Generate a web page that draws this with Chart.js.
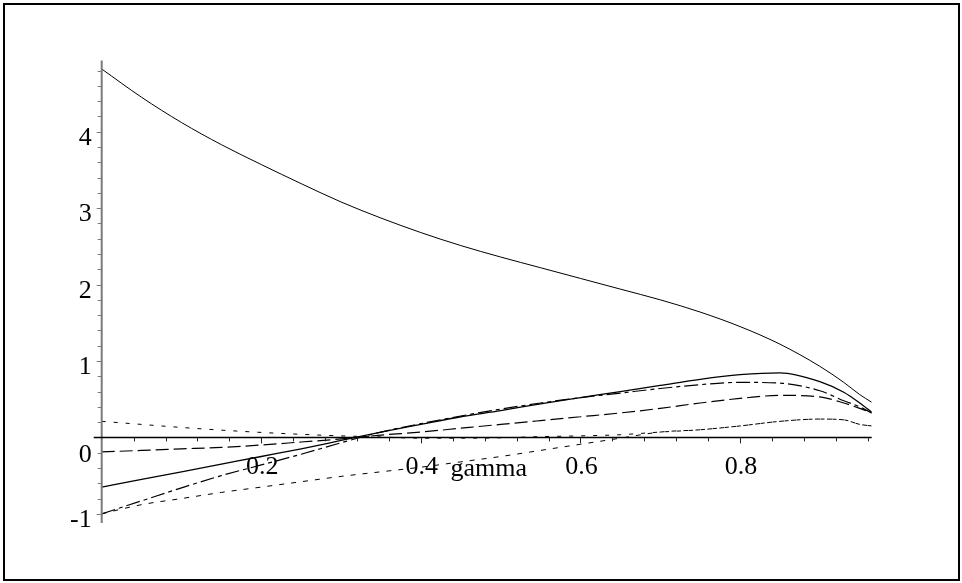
<!DOCTYPE html>
<html>
<head>
<meta charset="utf-8">
<title>gamma plot</title>
<script src="https://cdn.jsdelivr.net/npm/chart.js@4.4.1/dist/chart.umd.min.js"></script>
<style>
  html, body { margin: 0; padding: 0; background: #fff; }
  canvas { display: block; }
</style>
</head>
<body>
<canvas id="plot" width="962" height="583"></canvas>
<script>
// gamma values shared by all curves
const gammaValues = [0, 0.05, 0.1, 0.15, 0.2, 0.25, 0.3, 0.35, 0.4, 0.45, 0.5,
                     0.55, 0.6, 0.65, 0.7, 0.75, 0.8, 0.85, 0.9, 0.93, 0.95, 0.965];

// curves
const topSolid   = [4.82, 4.45, 4.12, 3.83, 3.57, 3.32, 3.08, 2.87, 2.68, 2.51, 2.36,
                    2.22, 2.08, 1.94, 1.80, 1.64, 1.45, 1.22, 0.93, 0.72, 0.56, 0.46];
const lowSolid   = [-0.65, -0.55, -0.45, -0.35, -0.25, -0.15, -0.04, 0.07, 0.17, 0.27, 0.35,
                    0.44, 0.52, 0.60, 0.68, 0.76, 0.82, 0.845, 0.73, 0.59, 0.45, 0.33];
const dashDot    = [-1.0, -0.83, -0.66, -0.50, -0.36, -0.22, -0.07, 0.07, 0.18, 0.28, 0.37,
                    0.45, 0.52, 0.58, 0.64, 0.69, 0.72, 0.71, 0.61, 0.48, 0.40, 0.32];
const longDash   = [-0.19, -0.17, -0.15, -0.13, -0.10, -0.06, -0.02, 0.03, 0.07, 0.12, 0.17,
                    0.22, 0.27, 0.32, 0.38, 0.45, 0.51, 0.55, 0.53, 0.45, 0.38, 0.32];
const dotUpper   = [0.21, 0.17, 0.13, 0.095, 0.065, 0.04, 0.02, 0.005, -0.01, -0.01, -0.005,
                    0.01, 0.02, 0.035, 0.07, 0.10, 0.15, 0.21, 0.24, 0.23, 0.17, 0.15];
const dotLower   = [-1.0, -0.88, -0.80, -0.72, -0.65, -0.58, -0.51, -0.45, -0.39, -0.32, -0.25,
                    -0.17, -0.09, -0.01, 0.07, 0.10, 0.15, 0.21, 0.24, 0.23, 0.17, 0.15];

// axis ticks
const xTickValues = [0.2, 0.4, 0.6, 0.8];
const xTickLabels = ['0.2', '0.4', '0.6', '0.8'];
const yTickValues = [-1, 0, 1, 2, 3, 4];
const yTickLabels = ['-1', '0', '1', '2', '3', '4'];
const xAxisTitle = 'gamma';

function points(values) {
    return gammaValues.map((g, i) => ({ x: g, y: values[i] }));
}

function curve(values, width, dash) {
    return {
        data: points(values),
        borderColor: '#000',
        borderWidth: width,
        borderDash: dash,
        pointRadius: 0,
        fill: false,
        cubicInterpolationMode: 'monotone'
    };
}

// Maple-like axes through the origin, plus the outer frame
const mapleAxes = {
    id: 'mapleAxes',
    afterDatasetsDraw(chart) {
        const ctx = chart.ctx;
        const xs = chart.scales.x;
        const ys = chart.scales.y;
        const area = chart.chartArea;
        const x0 = xs.getPixelForValue(0);
        const y0 = ys.getPixelForValue(0);

        ctx.save();

        // y axis (grey)
        ctx.strokeStyle = '#7a7a7a';
        ctx.lineWidth = 2;
        ctx.beginPath();
        ctx.moveTo(x0, area.top);
        ctx.lineTo(x0, area.bottom);
        ctx.stroke();

        // y ticks every 0.2
        ctx.lineWidth = 1;
        for (let v = -1; v <= 4.81; v += 0.2) {
            const py = Math.round(ys.getPixelForValue(v)) + 0.5;
            const major = Math.abs(v - Math.round(v)) < 1e-6;
            ctx.beginPath();
            ctx.moveTo(x0 - (major ? 5 : 4), py);
            ctx.lineTo(x0, py);
            ctx.stroke();
        }

        // x axis (black)
        ctx.strokeStyle = '#000';
        ctx.lineWidth = 1.5;
        ctx.beginPath();
        ctx.moveTo(x0 - 8, y0);
        ctx.lineTo(area.right, y0);
        ctx.stroke();

        // x ticks every 0.04
        ctx.lineWidth = 1;
        ctx.strokeStyle = '#222';
        for (let k = 1; k <= 24; k++) {
            const v = k * 0.04;
            const px = Math.round(xs.getPixelForValue(v)) + 0.5;
            const major = k % 5 === 0;
            ctx.beginPath();
            ctx.moveTo(px, y0);
            ctx.lineTo(px, y0 + (major ? 6 : 4));
            ctx.stroke();
        }

        // labels
        ctx.fillStyle = '#000';
        ctx.font = '26px "Liberation Serif", "Times New Roman", serif';
        ctx.textBaseline = 'alphabetic';

        ctx.textAlign = 'center';
        xTickValues.forEach((v, i) => {
            ctx.fillText(xTickLabels[i], xs.getPixelForValue(v) + 1, y0 + 37);
        });
        ctx.fillText(xAxisTitle, (area.left + area.right) / 2 + 2, y0 + 39);

        ctx.textAlign = 'right';
        yTickValues.forEach((v, i) => {
            const off = v === 0 ? 25 : 13;
            ctx.fillText(yTickLabels[i], x0 - 10, ys.getPixelForValue(v) + off);
        });

        // outer frame
        ctx.strokeStyle = '#000';
        ctx.lineWidth = 2;
        ctx.strokeRect(4, 4, chart.width - 7, chart.height - 7);

        ctx.restore();
    }
};

new Chart(document.getElementById('plot'), {
    type: 'line',
    data: {
        datasets: [
            curve(topSolid, 1, []),
            curve(lowSolid, 1.3, []),
            curve(dashDot, 1.2, [14, 4, 4, 4]),
            curve(longDash, 1.2, [13, 5]),
            curve(dotUpper, 1, [4, 8]),
            curve(dotLower, 1, [5, 7])
        ]
    },
    options: {
        responsive: false,
        animation: false,
        layout: { padding: { left: 101.7, right: 90.3, top: 60.6, bottom: 60 } },
        plugins: {
            legend: { display: false },
            tooltip: { enabled: false }
        },
        scales: {
            x: { type: 'linear', min: 0, max: 0.965, display: false },
            y: { type: 'linear', min: -1.12, max: 4.93, display: false }
        }
    },
    plugins: [mapleAxes]
});
</script>
</body>
</html>
